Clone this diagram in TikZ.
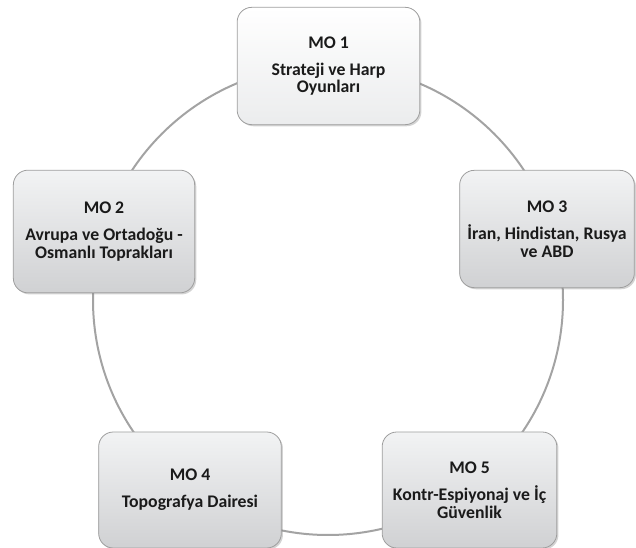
\documentclass[tikz,border=0pt]{standalone}
\usepackage{fontspec}
\setmainfont{Carlito}
\usetikzlibrary{shadows}
\definecolor{ringgray}{HTML}{A3A3A3}
\definecolor{boxedge}{HTML}{9E9E9E}
\definecolor{boxtop}{HTML}{F2F3F4}
\definecolor{boxbot}{HTML}{D0D1D3}
\definecolor{txt}{HTML}{1A1A1A}
\tikzset{
  mobox/.style={rectangle, rounded corners=11pt, draw=boxedge, line width=0.6pt,
    top color=boxtop, bottom color=boxbot, align=center, text=txt,
    font=\bfseries\fontsize{13.3}{13.3}\selectfont,
    drop shadow={shadow xshift=1.2pt, shadow yshift=-1.2pt, opacity=0.35},
    inner sep=2pt},
  ringstyle/.style={circle, draw=ringgray, line width=1.5pt, inner sep=0pt}
}
\begin{document}
\begin{tikzpicture}[x=0.75pt,y=-0.75pt]
\useasboundingbox (0,0) rectangle (636,548);
\node[ringstyle, minimum size=352.5pt] (ring) at (328,300) {};
\node[mobox, top color=white, bottom color=boxtop!80!boxbot, minimum width=137pt, minimum height=88pt] (m1) at (328.5,66)
  {MO 1\\[7pt]Strateji ve Harp\\Oyunları};
\node[mobox, minimum width=136pt, minimum height=92pt] (m2) at (104,231.5)
  {MO 2\\[7pt]Avrupa ve Ortadoğu -\\Osmanlı Toprakları};
\node[mobox, minimum width=131pt, minimum height=88pt] (m3) at (547,229)
  {MO 3\\[7pt]İran, Hindistan, Rusya\\ve ABD};
\node[mobox, minimum width=137pt, minimum height=87pt] (m4) at (190,490)
  {MO 4\\[7pt]Topografya Dairesi};
\node[mobox, minimum width=131pt, minimum height=87pt] (m5) at (469.5,490)
  {MO 5\\[7pt]Kontr-Espiyonaj ve İç\\Güvenlik};
\end{tikzpicture}
\end{document}
